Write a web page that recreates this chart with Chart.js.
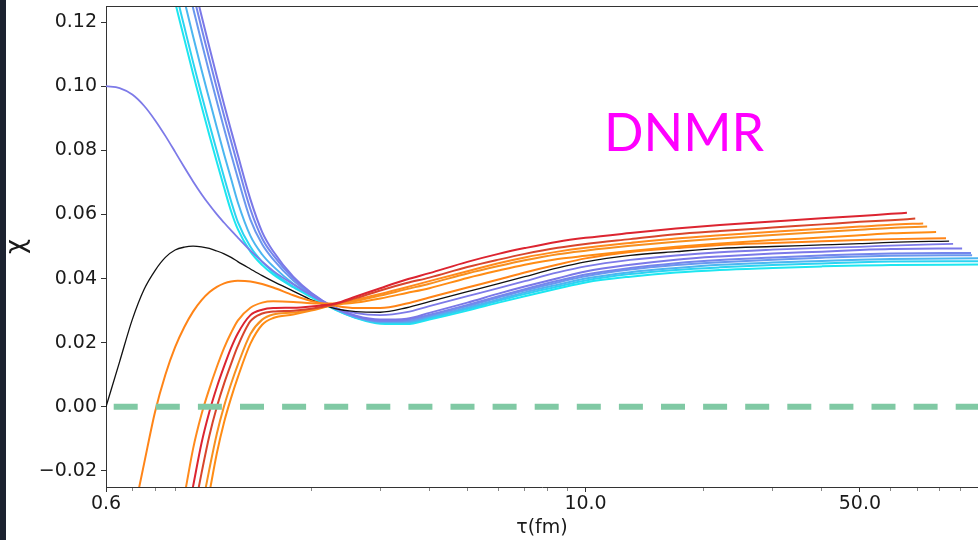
<!DOCTYPE html>
<html>
<head>
<meta charset="utf-8">
<script src="https://cdn.jsdelivr.net/npm/chart.js@4.4.0/dist/chart.umd.min.js"></script>
<style>
  html, body { margin: 0; padding: 0; background: #fff; }
  #wrap { width: 978px; height: 540px; }
</style>
</head>
<body>
<div id="wrap"><canvas id="chiChart" width="978" height="540"></canvas></div>
<script>
// shared tau grid (fm), log axis
const tau = [0.6, 0.65, 0.7, 0.75, 0.8, 0.85, 0.9, 0.95, 1.0, 1.05, 1.1, 1.15, 1.2, 1.25, 1.3, 1.4, 1.5, 1.6, 1.8, 2.0,
             2.3, 2.6, 3.0, 3.5, 4, 5, 6, 7, 8.5, 10, 13, 17, 22, 30, 40, 50, 60];

// chi values on the grid (null = curve not started yet)
const chiRed1 = [null, null, null, null, null, null, null, -0.0384, -0.0248, -0.0115, -0.0016, 0.0062, 0.0127, 0.0184, 0.0229, 0.0286, 0.0303, 0.0308, 0.0309, 0.0313,
                 0.0322, 0.0344, 0.0370, 0.0397, 0.0417, 0.0452, 0.0477, 0.0495, 0.0515, 0.0527, 0.0542, 0.0556, 0.0567, 0.0578, 0.0588, 0.0595, 0.0602];
const chiRed2 = [null, null, null, null, null, null, null, null, -0.0342, -0.0209, -0.0091, 0.0000, 0.0073, 0.0134, 0.0189, 0.0267, 0.0291, 0.0297, 0.0300, 0.0306,
                 0.0320, 0.0339, 0.0363, 0.0386, 0.0403, 0.0436, 0.0459, 0.0477, 0.0496, 0.0508, 0.0523, 0.0538, 0.0548, 0.0559, 0.0569, 0.0577, 0.0582];
const chiOr3 = [null, null, null, null, null, null, -0.0413, -0.0278, -0.0131, -0.0025, 0.0056, 0.0125, 0.0184, 0.0231, 0.0269, 0.0309, 0.0325, 0.0329, 0.0327, 0.0323,
                0.0322, 0.0334, 0.0352, 0.0373, 0.0392, 0.0423, 0.0448, 0.0466, 0.0484, 0.0496, 0.0511, 0.0525, 0.0535, 0.0546, 0.0555, 0.0562, 0.0568];
const chiOr4 = [null, null, null, null, null, null, null, null, null, -0.0322, -0.0195, -0.0083, 0.0003, 0.0072, 0.0131, 0.0227, 0.0272, 0.0288, 0.0294, 0.0303,
                0.0319, 0.0330, 0.0347, 0.0367, 0.0384, 0.0416, 0.0439, 0.0457, 0.0476, 0.0487, 0.0502, 0.0515, 0.0525, 0.0536, 0.0545, 0.0552, 0.0558];
const chiOr5 = [null, null, null, null, null, null, null, null, null, -0.0391, -0.0269, -0.0144, -0.0047, 0.0028, 0.0092, 0.0197, 0.0256, 0.0277, 0.0288, 0.0300,
                0.0318, 0.0325, 0.0338, 0.0355, 0.0370, 0.0402, 0.0425, 0.0443, 0.0461, 0.0471, 0.0486, 0.0499, 0.0509, 0.0520, 0.0528, 0.0535, 0.0541];
const chiOr6 = [null, null, -0.0355, -0.0178, -0.0016, 0.0100, 0.0186, 0.0249, 0.0297, 0.0332, 0.0357, 0.0374, 0.0385, 0.0391, 0.0393, 0.0391, 0.0383, 0.0372, 0.0348, 0.0330,
                0.0315, 0.0308, 0.0308, 0.0322, 0.0341, 0.0372, 0.0397, 0.0419, 0.0444, 0.0463, 0.0483, 0.0495, 0.0505, 0.0511, 0.0516, 0.0520, 0.0523];
const chiBlack = [0, 0.0141, 0.0272, 0.0366, 0.0425, 0.0466, 0.0489, 0.0498, 0.0501, 0.0499, 0.0494, 0.0486, 0.0477, 0.0466, 0.0453, 0.0430, 0.0409, 0.0391, 0.0361, 0.0334,
                  0.0306, 0.0297, 0.0295, 0.0309, 0.0328, 0.0359, 0.0384, 0.0406, 0.0433, 0.0452, 0.0472, 0.0484, 0.0494, 0.0500, 0.0505, 0.0509, 0.0513];
const chiBlue1 = [0.1000, 0.0994, 0.0974, 0.0939, 0.0894, 0.0845, 0.0795, 0.0747, 0.0703, 0.0664, 0.0630, 0.0600, 0.0574, 0.0550, 0.0528, 0.0487, 0.0453, 0.0424, 0.0382, 0.0348,
                  0.0309, 0.0292, 0.0286, 0.0295, 0.0314, 0.0345, 0.0370, 0.0392, 0.0419, 0.0438, 0.0458, 0.0472, 0.0482, 0.0490, 0.0496, 0.0499, 0.0503];
const chiBlue2 = [null, null, null, null, null, null, null, null, 0.1328, 0.1221, 0.1122, 0.1029, 0.0942, 0.0862, 0.0786, 0.0647, 0.0545, 0.0485, 0.0406, 0.0356,
                  0.0309, 0.0284, 0.0272, 0.0275, 0.0293, 0.0325, 0.0353, 0.0375, 0.0401, 0.0422, 0.0443, 0.0459, 0.0469, 0.0478, 0.0484, 0.0489, 0.0492];
const chiBlue3 = [null, null, null, null, null, null, null, 0.1405, 0.1289, 0.1183, 0.1085, 0.0993, 0.0907, 0.0828, 0.0753, 0.0616, 0.0525, 0.0473, 0.0401, 0.0353,
                  0.0308, 0.0282, 0.0268, 0.0271, 0.0287, 0.0318, 0.0345, 0.0367, 0.0393, 0.0413, 0.0433, 0.0448, 0.0458, 0.0466, 0.0472, 0.0476, 0.0478];
const chiBlue4 = [null, null, null, null, null, null, null, 0.1358, 0.1244, 0.1139, 0.1042, 0.0952, 0.0867, 0.0788, 0.0714, 0.0584, 0.0507, 0.0460, 0.0394, 0.0350,
                  0.0307, 0.0281, 0.0267, 0.0268, 0.0284, 0.0314, 0.0341, 0.0363, 0.0388, 0.0407, 0.0428, 0.0442, 0.0451, 0.0459, 0.0465, 0.0469, 0.0471];
const chiCyan1 = [null, null, null, null, null, null, 0.1387, 0.1267, 0.1156, 0.1053, 0.0959, 0.0870, 0.0787, 0.0711, 0.0638, 0.0533, 0.0475, 0.0438, 0.0384, 0.0348,
                  0.0306, 0.0279, 0.0264, 0.0264, 0.0280, 0.0309, 0.0335, 0.0357, 0.0381, 0.0400, 0.0420, 0.0433, 0.0443, 0.0450, 0.0455, 0.0459, 0.0461];
const chiCyan2 = [null, null, null, null, null, 0.1431, 0.1302, 0.1185, 0.1075, 0.0975, 0.0883, 0.0797, 0.0715, 0.0641, 0.0577, 0.0499, 0.0452, 0.0420, 0.0375, 0.0348,
                  0.0304, 0.0278, 0.0262, 0.0262, 0.0276, 0.0305, 0.0331, 0.0352, 0.0375, 0.0394, 0.0414, 0.0427, 0.0435, 0.0442, 0.0447, 0.0451, 0.0453];
const chiCyan3 = [null, null, null, null, null, 0.1405, 0.1263, 0.1147, 0.1039, 0.0940, 0.0848, 0.0763, 0.0683, 0.0610, 0.0554, 0.0484, 0.0442, 0.0413, 0.0373, 0.0342,
                  0.0303, 0.0277, 0.0259, 0.0258, 0.0272, 0.0300, 0.0325, 0.0345, 0.0369, 0.0388, 0.0406, 0.0419, 0.0427, 0.0433, 0.0438, 0.0441, 0.0442];

// last point of each curve (they stop at different tau)
const endTau = [65.9, 69.2, 72.5, 74.2, 78.2, 82.9, 84.4, 86.4, 91.1, 96.0, 96.6, 100, 100, 100];
const endChi = [0.0605, 0.0587, 0.0572, 0.0562, 0.0545, 0.0526, 0.0517, 0.0508, 0.0494, 0.0480, 0.0473, 0.0463, 0.0454, 0.0444];

// reference line chi = 0
const zeroTau = [0.6, 100];
const zeroChi = [0, 0];

const xTickVals = [0.6, 0.7, 0.8, 0.9, 2, 3, 4, 5, 6, 7, 8, 9, 10, 20, 30, 40, 50, 60, 70, 80, 90];
const xTickLabels = [0.6, 10, 50];
const yTickVals = [-0.02, 0, 0.02, 0.04, 0.06, 0.08, 0.10, 0.12];

const curves = [
  { vals: chiRed1,  color: '#dc2430', width: 2 },
  { vals: chiRed2,  color: '#d8452c', width: 2 },
  { vals: chiOr3,   color: '#ff8a1c', width: 2 },
  { vals: chiOr4,   color: '#f7901f', width: 2 },
  { vals: chiOr5,   color: '#ff8c14', width: 2 },
  { vals: chiOr6,   color: '#ff8417', width: 2 },
  { vals: chiBlack, color: '#111111', width: 1.3 },
  { vals: chiBlue1, color: '#7d7ae8', width: 1.8 },
  { vals: chiBlue2, color: '#7a78e8', width: 2 },
  { vals: chiBlue3, color: '#7486ec', width: 2 },
  { vals: chiBlue4, color: '#6a98ee', width: 2 },
  { vals: chiCyan1, color: '#4cb6f0', width: 2 },
  { vals: chiCyan2, color: '#2cd3f2', width: 2 },
  { vals: chiCyan3, color: '#1de6f0', width: 2 }
];

function toPoints(vals, i) {
  const pts = [];
  vals.forEach((v, k) => { if (v !== null) pts.push({ x: tau[k], y: v }); });
  pts.push({ x: endTau[i], y: endChi[i] });
  return pts;
}

const datasets = [{
  data: zeroTau.map((t, k) => ({ x: t, y: zeroChi[k] })),
  borderColor: '#80c9a4',
  borderWidth: 6,
  borderDash: [24, 18.1],
  borderDashOffset: 34.4,
  borderCapStyle: 'butt',
  pointRadius: 0,
  clip: 0
}];
curves.forEach((c, i) => {
  datasets.push({
    data: toPoints(c.vals, i),
    borderColor: c.color,
    borderWidth: c.width,
    pointRadius: 0,
    cubicInterpolationMode: 'monotone',
    fill: false,
    clip: 0
  });
});

// white page, dark strip on the left, top frame line and the DNMR tag
const decor = {
  id: 'decor',
  beforeDraw(chart) {
    const c = chart.ctx;
    c.save();
    c.fillStyle = '#ffffff';
    c.fillRect(0, 0, chart.width, chart.height);
    c.fillStyle = '#1c2230';
    c.fillRect(0, 0, 6, chart.height);
    c.restore();
  },
  afterDraw(chart) {
    const c = chart.ctx;
    const a = chart.chartArea;
    c.save();
    c.strokeStyle = '#333';
    c.lineWidth = 1;
    c.beginPath();
    c.moveTo(a.left, a.top + 0.5);
    c.lineTo(a.right, a.top + 0.5);
    c.stroke();
    c.fillStyle = '#ff00ff';
    c.font = '52px Lato';
    c.textBaseline = 'alphabetic';
    c.fillText('DNMR', 604, 151);
    c.restore();
  }
};

const tickFont = { family: 'DejaVu Sans', size: 19 };

new Chart(document.getElementById('chiChart'), {
  type: 'line',
  data: { datasets: datasets },
  options: {
    responsive: false,
    animation: false,
    events: [],
    layout: { padding: { top: 6, left: 0, right: 0, bottom: 0 } },
    plugins: { legend: { display: false }, tooltip: { enabled: false } },
    scales: {
      x: {
        type: 'logarithmic',
        min: 0.6,
        max: 100,
        afterBuildTicks: s => { s.ticks = xTickVals.map(v => ({ value: v })); },
        afterFit: s => { s.height = 53; s.paddingLeft = 0; s.paddingRight = 0; },
        ticks: {
          autoSkip: false,
          maxRotation: 0,
          padding: 1,
          color: '#1a1a1a',
          font: tickFont,
          callback: v => xTickLabels.includes(v) ? v.toFixed(1) : ''
        },
        grid: {
          drawOnChartArea: false,
          tickLength: 5,
          tickColor: ctx => xTickLabels.includes(ctx.tick.value) ? '#333' : '#888',
          tickBorderDash: ctx => xTickLabels.includes(ctx.tick.value) ? [] : [3, 10]
        },
        border: { color: '#333', width: 1 },
        title: { display: true, text: 'τ(fm)', color: '#1a1a1a', font: tickFont, padding: { top: 0, bottom: 1 } }
      },
      y: {
        type: 'linear',
        min: -0.025,
        max: 0.125,
        afterBuildTicks: s => { s.ticks = yTickVals.map(v => ({ value: v })); },
        afterFit: s => { s.width = 106; s.paddingTop = 0; s.paddingBottom = 0; },
        ticks: {
          padding: 4,
          color: '#1a1a1a',
          font: tickFont,
          callback: v => (v < 0 ? '\u2212' : '') + Math.abs(v).toFixed(2)
        },
        grid: { drawOnChartArea: false, tickLength: 5, tickColor: '#333' },
        border: { color: '#333', width: 1 },
        title: { display: true, text: 'χ', color: '#1a1a1a', font: { family: 'DejaVu Sans', size: 26 }, padding: { top: 2, bottom: 0 } }
      }
    }
  },
  plugins: [decor]
});
</script>
</body>
</html>
